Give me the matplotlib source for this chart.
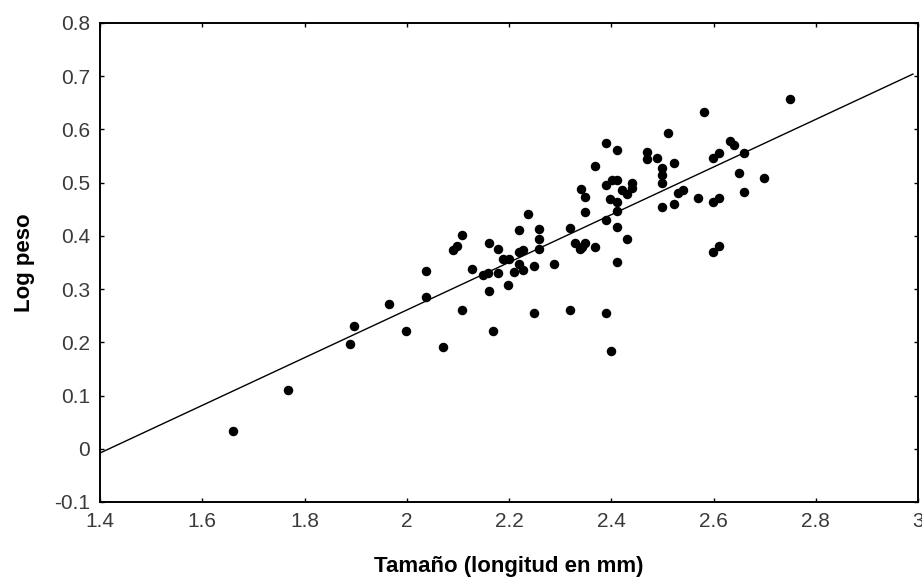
import numpy as np
import matplotlib.pyplot as plt

# Tamaño (longitud en mm) vs Log peso
size_mm = [1.66, 1.767, 1.888, 1.897, 1.966, 1.999, 2.038, 2.038, 2.07, 2.09,
           2.098, 2.108, 2.108, 2.128, 2.15, 2.159, 2.16, 2.16, 2.168, 2.179,
           2.179, 2.189, 2.198, 2.199, 2.209, 2.219, 2.219, 2.219, 2.228, 2.228,
           2.238, 2.249, 2.249, 2.259, 2.259, 2.259, 2.287, 2.32, 2.32, 2.33,
           2.339, 2.341, 2.343, 2.349, 2.349, 2.349, 2.369, 2.369, 2.39, 2.39,
           2.39, 2.39, 2.397, 2.399, 2.401, 2.411, 2.411, 2.411, 2.411, 2.411,
           2.411, 2.421, 2.431, 2.431, 2.44, 2.44, 2.47, 2.47, 2.489, 2.5,
           2.5, 2.5, 2.5, 2.51, 2.522, 2.522, 2.53, 2.541, 2.569, 2.581,
           2.599, 2.599, 2.599, 2.61, 2.61, 2.61, 2.632, 2.64, 2.649, 2.66,
           2.66, 2.699, 2.75]
log_weight = [0.034, 0.11, 0.196, 0.231, 0.272, 0.222, 0.334, 0.285, 0.192, 0.373,
              0.381, 0.401, 0.261, 0.337, 0.326, 0.33, 0.387, 0.296, 0.222, 0.375,
              0.33, 0.356, 0.308, 0.356, 0.333, 0.411, 0.37, 0.348, 0.373, 0.336,
              0.442, 0.344, 0.256, 0.413, 0.395, 0.376, 0.348, 0.415, 0.261, 0.386,
              0.376, 0.489, 0.38, 0.473, 0.444, 0.387, 0.379, 0.532, 0.574, 0.495,
              0.43, 0.255, 0.469, 0.184, 0.505, 0.561, 0.505, 0.464, 0.447, 0.416,
              0.351, 0.486, 0.479, 0.394, 0.499, 0.49, 0.557, 0.544, 0.546, 0.527,
              0.515, 0.499, 0.455, 0.593, 0.536, 0.459, 0.481, 0.486, 0.472, 0.632,
              0.546, 0.463, 0.37, 0.556, 0.472, 0.381, 0.579, 0.571, 0.519, 0.556,
              0.483, 0.508, 0.657]

# regression line as drawn
line_x = [1.4, 2.99]
line_y = [-0.008, 0.704]

x_ticks = [1.4, 1.6, 1.8, 2.0, 2.2, 2.4, 2.6, 2.8, 3.0]
x_tick_labels = ['1.4', '1.6', '1.8', '2', '2.2', '2.4', '2.6', '2.8', '3']
y_ticks = [-0.1, 0, 0.1, 0.2, 0.3, 0.4, 0.5, 0.6, 0.7, 0.8]
y_tick_labels = ['-0.1', '0', '0.1', '0.2', '0.3', '0.4', '0.5', '0.6', '0.7', '0.8']

plt.rcParams['font.family'] = ['Liberation Sans', 'DejaVu Sans']

fig = plt.figure(figsize=(9.22, 5.82), dpi=100)
ax = fig.add_axes([0.1085, 0.1375, 0.8872, 0.823])

ax.plot(line_x, line_y, color='black', linewidth=1.0)
ax.scatter(size_mm, log_weight, s=34, color='black', zorder=3)

ax.set_xlim(1.4, 3.0)
ax.set_ylim(-0.1, 0.8)
ax.set_xticks(x_ticks)
ax.set_xticklabels(x_tick_labels)
ax.set_yticks(y_ticks)
ax.set_yticklabels(y_tick_labels)

ax.tick_params(direction='in', length=3, width=1, top=True, right=True,
               labelsize=15, labelcolor='#3a3a3a', pad=7)
for sp in ax.spines.values():
    sp.set_linewidth(1.4)

ax.set_xlabel('Tamaño (longitud en mm)', fontsize=16, fontweight='bold', labelpad=18)
ax.set_ylabel('Log peso', fontsize=16, fontweight='bold', labelpad=14)

fig.savefig('out.png', dpi=100)
plt.close()
